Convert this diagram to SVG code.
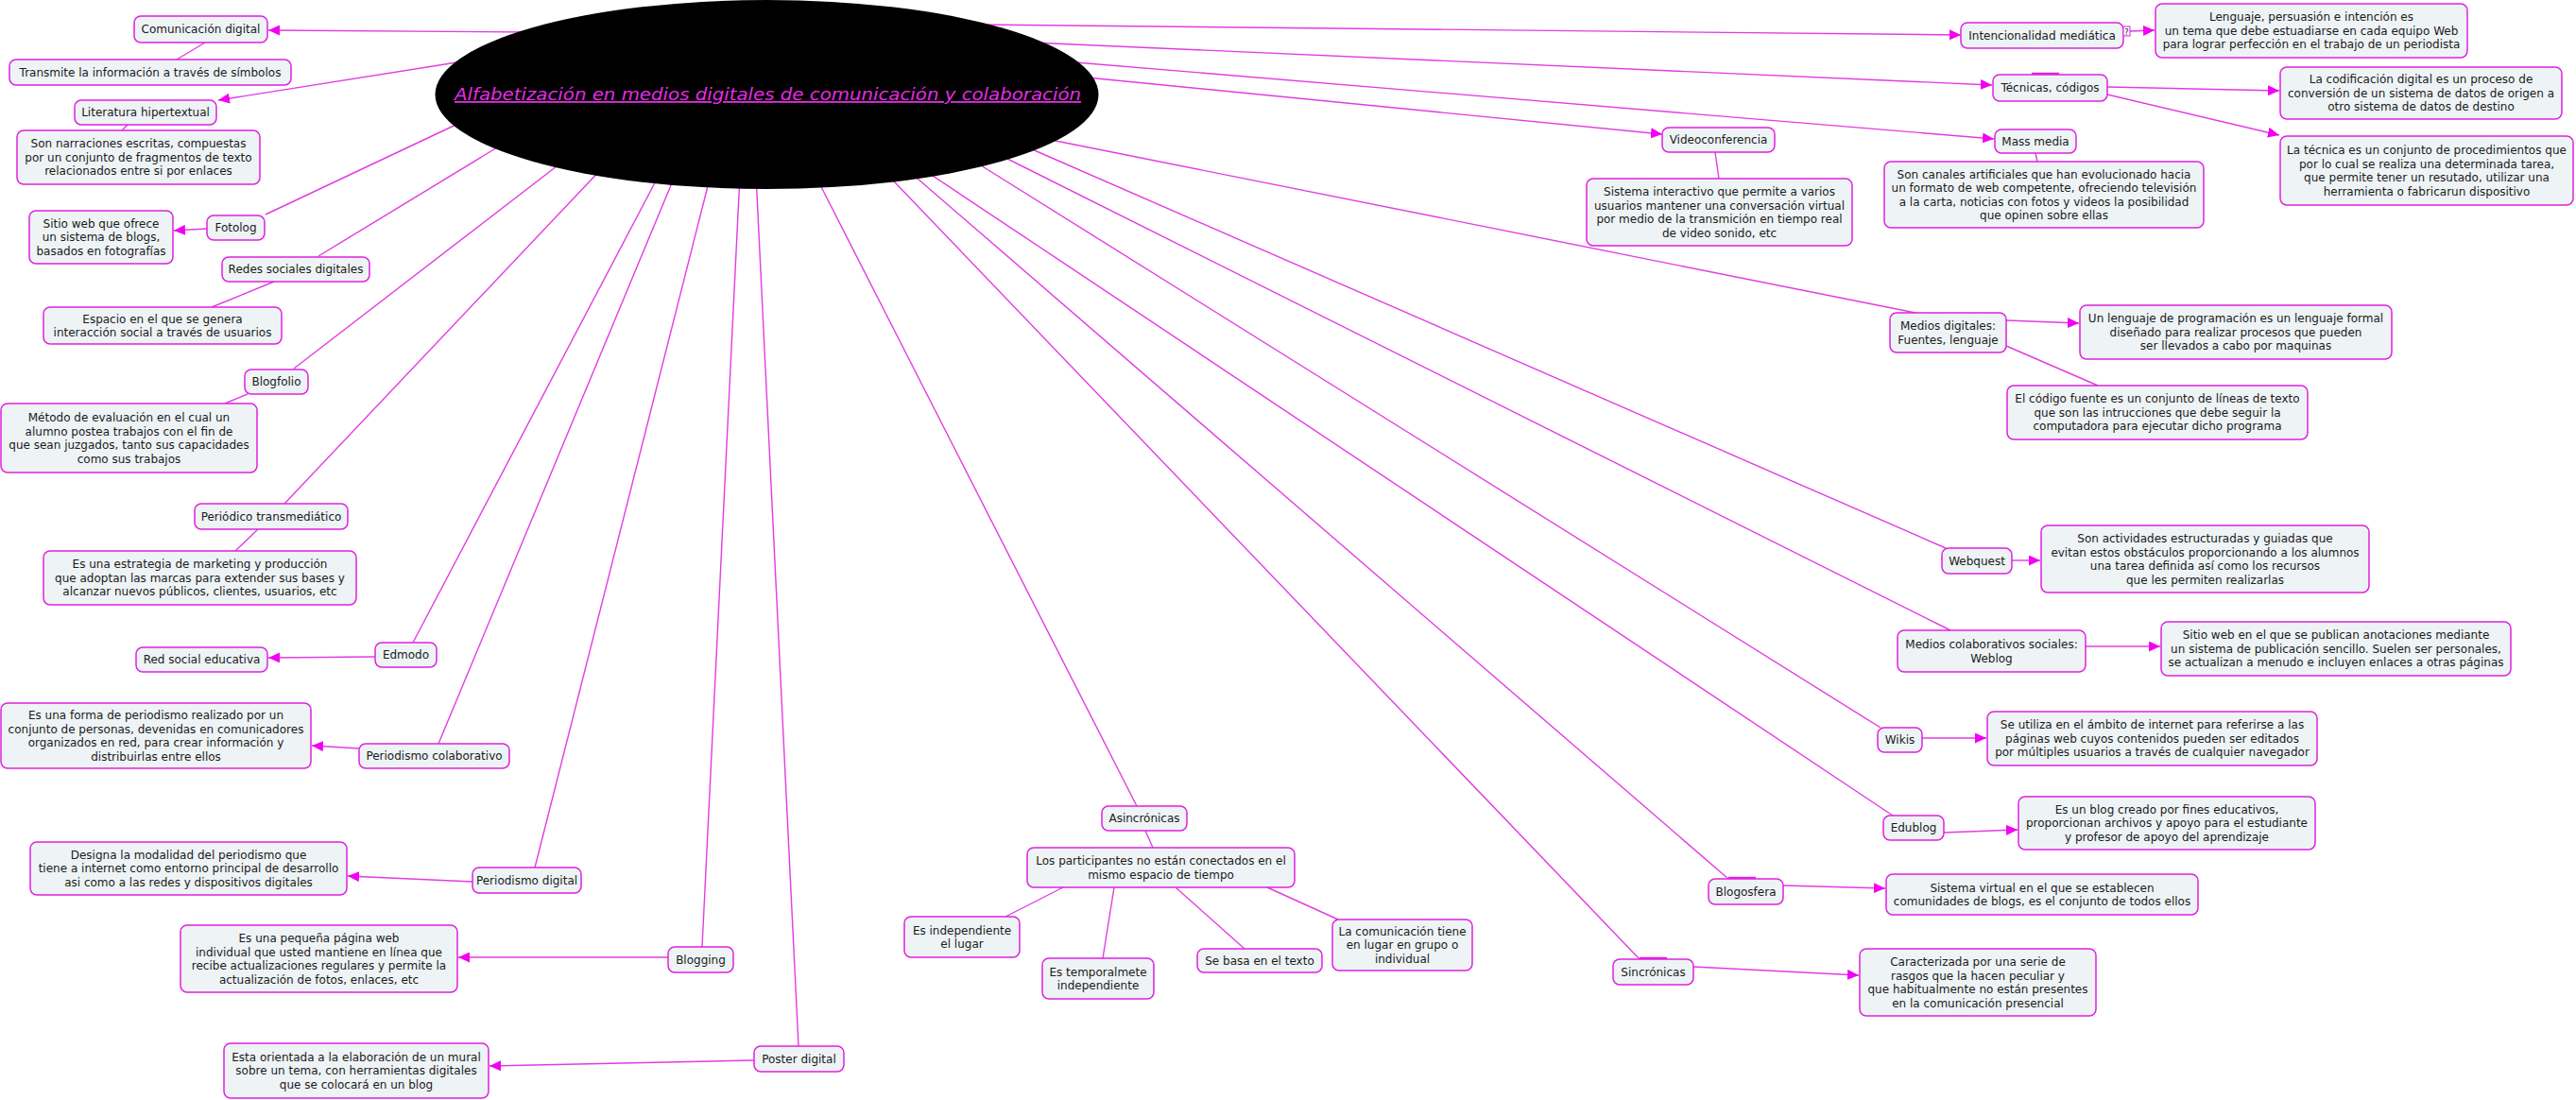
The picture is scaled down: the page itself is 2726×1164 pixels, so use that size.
<svg xmlns="http://www.w3.org/2000/svg" width="2726" height="1164" viewBox="0 0 2726 1164">
<style>
.n rect{fill:#eef3f5;stroke:#e020e0;stroke-width:1.5}
.n text{font-family:"DejaVu Sans",Verdana,sans-serif;font-size:12px;fill:#1a1a1a;text-anchor:middle}
#connectors line{stroke:#e23ce2;stroke-width:1.4;fill:none}
#connectors line.a{marker-end:url(#arr)}
.tab{stroke:#e020e0;stroke-width:2.5}
</style>
<defs>
<marker id="arr" markerUnits="userSpaceOnUse" markerWidth="13" markerHeight="11" refX="12" refY="5.5" orient="auto">
<path d="M0,0 L12,5.5 L0,11 z" fill="#f200f2"/>
</marker>
</defs>
<rect width="2726" height="1164" fill="#ffffff"/>
<g id="connectors">
<line class="a" x1="565" y1="34" x2="284" y2="32"/>
<line class="a" x1="496" y1="64" x2="231" y2="106"/>
<line x1="493" y1="127" x2="281" y2="227"/>
<line x1="536" y1="150" x2="337" y2="271"/>
<line x1="598" y1="169" x2="311" y2="390"/>
<line x1="640" y1="175" x2="301" y2="533"/>
<line x1="699" y1="182" x2="437" y2="680"/>
<line x1="715" y1="184" x2="464" y2="787"/>
<line x1="752" y1="185" x2="566" y2="918"/>
<line x1="783" y1="185" x2="743" y2="1002"/>
<line x1="800" y1="185" x2="845" y2="1107"/>
<line x1="862" y1="184" x2="1203" y2="853"/>
<line x1="925" y1="170" x2="1735" y2="1015"/>
<line x1="949" y1="170" x2="1829" y2="930"/>
<line x1="963" y1="170" x2="2003" y2="863"/>
<line x1="1030" y1="170" x2="1990" y2="770"/>
<line x1="1030" y1="150" x2="2064" y2="667"/>
<line x1="1051" y1="140" x2="2059" y2="580"/>
<line x1="1077" y1="141" x2="2027" y2="331"/>
<line class="a" x1="1140" y1="81" x2="1759" y2="142"/>
<line class="a" x1="1126" y1="65" x2="2110" y2="147"/>
<line class="a" x1="1091" y1="45" x2="2108" y2="90"/>
<line class="a" x1="1035" y1="26" x2="2075" y2="37"/>
<line x1="217" y1="45" x2="187" y2="63"/>
<line x1="135" y1="132" x2="129" y2="138"/>
<line class="a" x1="219" y1="242" x2="184" y2="244"/>
<line x1="290" y1="298" x2="224" y2="325"/>
<line x1="262" y1="417" x2="238" y2="427"/>
<line x1="273" y1="560" x2="249" y2="583"/>
<line class="a" x1="397" y1="695" x2="284" y2="696"/>
<line class="a" x1="380" y1="792" x2="330" y2="789"/>
<line class="a" x1="500" y1="933" x2="368" y2="927"/>
<line class="a" x1="707" y1="1013" x2="485" y2="1013"/>
<line class="a" x1="798" y1="1122" x2="518" y2="1128"/>
<line x1="1212" y1="879" x2="1220" y2="897"/>
<line x1="1125" y1="939" x2="1064" y2="970"/>
<line x1="1179" y1="939" x2="1167" y2="1014"/>
<line x1="1244" y1="939" x2="1317" y2="1004"/>
<line x1="1341" y1="939" x2="1416" y2="973"/>
<line class="a" x1="1792" y1="1023" x2="1967" y2="1032"/>
<line class="a" x1="1887" y1="937" x2="1995" y2="940"/>
<line class="a" x1="2057" y1="881" x2="2135" y2="878"/>
<line class="a" x1="2034" y1="781" x2="2102" y2="781"/>
<line class="a" x1="2207" y1="684" x2="2286" y2="684"/>
<line class="a" x1="2129" y1="593" x2="2159" y2="593"/>
<line class="a" x1="2123" y1="339" x2="2200" y2="342"/>
<line x1="2123" y1="366" x2="2220" y2="408"/>
<line x1="1815" y1="161" x2="1819" y2="189"/>
<line x1="2154" y1="162" x2="2156" y2="171"/>
<line class="a" x1="2230" y1="92" x2="2412" y2="96"/>
<line class="a" x1="2230" y1="100" x2="2412" y2="143"/>
<line class="a" x1="2254" y1="33" x2="2280" y2="32"/>
</g>
<g id="center">
<ellipse cx="811.5" cy="100" rx="351" ry="100" fill="#000000"/>
<text x="812.5" y="106" textLength="663" lengthAdjust="spacingAndGlyphs" font-family="DejaVu Sans,Verdana,sans-serif" font-size="18" font-style="italic" text-decoration="underline" fill="#e62ce6" text-anchor="middle">Alfabetización en medios digitales de comunicación y colaboración</text>
</g>
<g id="n1" class="n"><rect x="142" y="17" width="141" height="28" rx="7"/><text x="212.5" y="35.3">Comunicación digital</text></g>
<g id="n2" class="n"><rect x="10" y="63" width="298" height="27" rx="7"/><text x="159" y="80.8">Transmite la información a través de símbolos</text></g>
<g id="n3" class="n"><rect x="79" y="106" width="150" height="26" rx="7"/><text x="154" y="123.3">Literatura hipertextual</text></g>
<g id="n4" class="n"><rect x="18" y="138" width="257" height="57" rx="7"/><text x="146.5" y="156.3"><tspan x="146.5">Son narraciones escritas, compuestas</tspan><tspan x="146.5" dy="14.5">por un conjunto de fragmentos de texto</tspan><tspan x="146.5" dy="14.5">relacionados entre si por enlaces</tspan></text></g>
<g id="n5" class="n"><rect x="219" y="228" width="61" height="26" rx="7"/><text x="249.5" y="245.3">Fotolog</text></g>
<g id="n6" class="n"><rect x="31" y="223" width="152" height="56" rx="7"/><text x="107" y="240.8"><tspan x="107">Sitio web que ofrece</tspan><tspan x="107" dy="14.5">un sistema de blogs,</tspan><tspan x="107" dy="14.5">basados en fotografías</tspan></text></g>
<g id="n7" class="n"><rect x="235" y="272" width="156" height="26" rx="7"/><text x="313" y="289.3">Redes sociales digitales</text></g>
<g id="n8" class="n"><rect x="46" y="325" width="252" height="39" rx="7"/><text x="172" y="341.6"><tspan x="172">Espacio en el que se genera</tspan><tspan x="172" dy="14.5">interacción social a través de usuarios</tspan></text></g>
<g id="n9" class="n"><rect x="259" y="391" width="67" height="26" rx="7"/><text x="292.5" y="408.3">Blogfolio</text></g>
<g id="n10" class="n"><rect x="1" y="427" width="271" height="73" rx="7"/><text x="136.5" y="446"><tspan x="136.5">Método de evaluación en el cual un</tspan><tspan x="136.5" dy="14.5">alumno postea trabajos con el fin de</tspan><tspan x="136.5" dy="14.5">que sean juzgados, tanto sus capacidades</tspan><tspan x="136.5" dy="14.5">como sus trabajos</tspan></text></g>
<g id="n11" class="n"><rect x="206" y="533" width="162" height="27" rx="7"/><text x="287" y="550.8">Periódico transmediático</text></g>
<g id="n12" class="n"><rect x="46" y="583" width="331" height="57" rx="7"/><text x="211.5" y="601.3"><tspan x="211.5">Es una estrategia de marketing y producción</tspan><tspan x="211.5" dy="14.5">que adoptan las marcas para extender sus bases y</tspan><tspan x="211.5" dy="14.5">alcanzar nuevos públicos, clientes, usuarios, etc</tspan></text></g>
<g id="n13" class="n"><rect x="397" y="680" width="65" height="26" rx="7"/><text x="429.5" y="697.3">Edmodo</text></g>
<g id="n14" class="n"><rect x="144" y="685" width="139" height="26" rx="7"/><text x="213.5" y="702.3">Red social educativa</text></g>
<g id="n15" class="n"><rect x="1" y="744" width="328" height="69" rx="7"/><text x="165" y="761"><tspan x="165">Es una forma de periodismo realizado por un</tspan><tspan x="165" dy="14.5">conjunto de personas, devenidas en comunicadores</tspan><tspan x="165" dy="14.5">organizados en red, para crear información y</tspan><tspan x="165" dy="14.5">distribuirlas entre ellos</tspan></text></g>
<g id="n16" class="n"><rect x="380" y="787" width="159" height="26" rx="7"/><text x="459.5" y="804.3">Periodismo colaborativo</text></g>
<g id="n17" class="n"><rect x="32" y="891" width="335" height="56" rx="7"/><text x="199.5" y="908.8"><tspan x="199.5">Designa la modalidad del periodismo que</tspan><tspan x="199.5" dy="14.5">tiene a internet como entorno principal de desarrollo</tspan><tspan x="199.5" dy="14.5">asi como a las redes y dispositivos digitales</tspan></text></g>
<g id="n18" class="n"><rect x="500" y="918" width="115" height="27" rx="7"/><text x="557.5" y="935.8">Periodismo digital</text></g>
<g id="n19" class="n"><rect x="191" y="979" width="293" height="71" rx="7"/><text x="337.5" y="997"><tspan x="337.5">Es una pequeña página web</tspan><tspan x="337.5" dy="14.5">individual que usted mantiene en línea que</tspan><tspan x="337.5" dy="14.5">recibe actualizaciones regulares y permite la</tspan><tspan x="337.5" dy="14.5">actualización de fotos, enlaces, etc</tspan></text></g>
<g id="n20" class="n"><rect x="237" y="1104" width="280" height="58" rx="7"/><text x="377" y="1122.8"><tspan x="377">Esta orientada a la elaboración de un mural</tspan><tspan x="377" dy="14.5">sobre un tema, con herramientas digitales</tspan><tspan x="377" dy="14.5">que se colocará en un blog</tspan></text></g>
<g id="n21" class="n"><rect x="707" y="1002" width="69" height="27" rx="7"/><text x="741.5" y="1019.8">Blogging</text></g>
<g id="n22" class="n"><rect x="798" y="1107" width="95" height="27" rx="7"/><text x="845.5" y="1124.8">Poster digital</text></g>
<g id="n23" class="n"><rect x="1166" y="853" width="90" height="26" rx="7"/><text x="1211" y="870.3">Asincrónicas</text></g>
<g id="n24" class="n"><rect x="1087" y="897" width="283" height="42" rx="7"/><text x="1228.5" y="915"><tspan x="1228.5">Los participantes no están conectados en el</tspan><tspan x="1228.5" dy="14.5">mismo espacio de tiempo</tspan></text></g>
<g id="n25" class="n"><rect x="957" y="970" width="122" height="43" rx="7"/><text x="1018" y="988.5"><tspan x="1018">Es independiente</tspan><tspan x="1018" dy="14.5">el lugar</tspan></text></g>
<g id="n26" class="n"><rect x="1103" y="1014" width="118" height="43" rx="7"/><text x="1162" y="1032.5"><tspan x="1162">Es temporalmete</tspan><tspan x="1162" dy="14.5">independiente</tspan></text></g>
<g id="n27" class="n"><rect x="1267" y="1004" width="132" height="25" rx="7"/><text x="1333" y="1020.8">Se basa en el texto</text></g>
<g id="n28" class="n"><rect x="1410" y="973" width="148" height="54" rx="7"/><text x="1484" y="989.8"><tspan x="1484">La comunicación tiene</tspan><tspan x="1484" dy="14.5">en lugar en grupo o</tspan><tspan x="1484" dy="14.5">individual</tspan></text></g>
<g id="n29" class="n"><rect x="2075" y="24" width="172" height="27" rx="7"/><text x="2161" y="41.8">Intencionalidad mediática</text><rect x="2247" y="28" width="7" height="10" rx="0" style="fill:#ffffff;stroke:#e020e0;stroke-width:1"/><text x="2250.5" y="36.5" style="font-size:9px">?</text></g>
<g id="n30" class="n"><rect x="2281" y="4" width="330" height="57" rx="7"/><text x="2446" y="22.3"><tspan x="2446">Lenguaje, persuasión e intención es</tspan><tspan x="2446" dy="14.5">un tema que debe estuadiarse en cada equipo Web</tspan><tspan x="2446" dy="14.5">para lograr perfección en el trabajo de un periodista</tspan></text></g>
<g id="n31" class="n"><line class="tab" x1="2150" y1="78" x2="2179" y2="78"/><rect x="2109" y="79" width="121" height="28" rx="7"/><text x="2169.5" y="97.3">Técnicas, códigos</text></g>
<g id="n32" class="n"><rect x="2413" y="71" width="298" height="55" rx="7"/><text x="2562" y="88.3"><tspan x="2562">La codificación digital es un proceso de</tspan><tspan x="2562" dy="14.5">conversión de un sistema de datos de origen a</tspan><tspan x="2562" dy="14.5">otro sistema de datos de destino</tspan></text></g>
<g id="n33" class="n"><rect x="2413" y="144" width="310" height="73" rx="7"/><text x="2568" y="163"><tspan x="2568">La técnica es un conjunto de procedimientos que</tspan><tspan x="2568" dy="14.5">por lo cual se realiza una determinada tarea,</tspan><tspan x="2568" dy="14.5">que permite tener un resutado, utilizar una</tspan><tspan x="2568" dy="14.5">herramienta o fabricarun dispositivo</tspan></text></g>
<g id="n34" class="n"><rect x="2111" y="137" width="86" height="25" rx="7"/><text x="2154" y="153.8">Mass media</text></g>
<g id="n35" class="n"><rect x="1994" y="171" width="338" height="70" rx="7"/><text x="2163" y="188.5"><tspan x="2163">Son canales artificiales que han evolucionado hacia</tspan><tspan x="2163" dy="14.5">un formato de web competente, ofreciendo televisión</tspan><tspan x="2163" dy="14.5">a la carta, noticias con fotos y videos la posibilidad</tspan><tspan x="2163" dy="14.5">que opinen sobre ellas</tspan></text></g>
<g id="n36" class="n"><rect x="1759" y="135" width="119" height="26" rx="7"/><text x="1818.5" y="152.3">Videoconferencia</text></g>
<g id="n37" class="n"><rect x="1679" y="189" width="281" height="71" rx="7"/><text x="1819.5" y="207"><tspan x="1819.5">Sistema interactivo que permite a varios</tspan><tspan x="1819.5" dy="14.5">usuarios mantener una conversación virtual</tspan><tspan x="1819.5" dy="14.5">por medio de la transmición en tiempo real</tspan><tspan x="1819.5" dy="14.5">de video sonido, etc</tspan></text></g>
<g id="n38" class="n"><rect x="2000" y="331" width="123" height="42" rx="7"/><text x="2061.5" y="349"><tspan x="2061.5">Medios digitales:</tspan><tspan x="2061.5" dy="14.5">Fuentes, lenguaje</tspan></text></g>
<g id="n39" class="n"><rect x="2201" y="323" width="330" height="57" rx="7"/><text x="2366" y="341.3"><tspan x="2366">Un lenguaje de programación es un lenguaje formal</tspan><tspan x="2366" dy="14.5">diseñado para realizar procesos que pueden</tspan><tspan x="2366" dy="14.5">ser llevados a cabo por maquinas</tspan></text></g>
<g id="n40" class="n"><rect x="2124" y="408" width="318" height="57" rx="7"/><text x="2283" y="426.3"><tspan x="2283">El código fuente es un conjunto de líneas de texto</tspan><tspan x="2283" dy="14.5">que son las intrucciones que debe seguir la</tspan><tspan x="2283" dy="14.5">computadora para ejecutar dicho programa</tspan></text></g>
<g id="n41" class="n"><rect x="2055" y="580" width="74" height="27" rx="7"/><text x="2092" y="597.8">Webquest</text></g>
<g id="n42" class="n"><rect x="2160" y="556" width="347" height="71" rx="7"/><text x="2333.5" y="574"><tspan x="2333.5">Son actividades estructuradas y guiadas que</tspan><tspan x="2333.5" dy="14.5">evitan estos obstáculos proporcionando a los alumnos</tspan><tspan x="2333.5" dy="14.5">una tarea definida así como los recursos</tspan><tspan x="2333.5" dy="14.5">que les permiten realizarlas</tspan></text></g>
<g id="n43" class="n"><rect x="2008" y="667" width="199" height="44" rx="7"/><text x="2107.5" y="686"><tspan x="2107.5">Medios colaborativos sociales:</tspan><tspan x="2107.5" dy="14.5">Weblog</tspan></text></g>
<g id="n44" class="n"><rect x="2287" y="658" width="370" height="57" rx="7"/><text x="2472" y="676.3"><tspan x="2472">Sitio web en el que se publican anotaciones mediante</tspan><tspan x="2472" dy="14.5">un sistema de publicación sencillo. Suelen ser personales,</tspan><tspan x="2472" dy="14.5">se actualizan a menudo e incluyen enlaces a otras páginas</tspan></text></g>
<g id="n45" class="n"><rect x="1987" y="770" width="47" height="26" rx="7"/><text x="2010.5" y="787.3">Wikis</text></g>
<g id="n46" class="n"><rect x="2103" y="753" width="349" height="57" rx="7"/><text x="2277.5" y="771.3"><tspan x="2277.5">Se utiliza en el ámbito de internet para referirse a las</tspan><tspan x="2277.5" dy="14.5">páginas web cuyos contenidos pueden ser editados</tspan><tspan x="2277.5" dy="14.5">por múltiples usuarios a través de cualquier navegador</tspan></text></g>
<g id="n47" class="n"><rect x="1993" y="863" width="64" height="26" rx="7"/><text x="2025" y="880.3">Edublog</text></g>
<g id="n48" class="n"><rect x="2136" y="843" width="314" height="56" rx="7"/><text x="2293" y="860.8"><tspan x="2293">Es un blog creado por fines educativos,</tspan><tspan x="2293" dy="14.5">proporcionan archivos y apoyo para el estudiante</tspan><tspan x="2293" dy="14.5">y profesor de apoyo del aprendizaje</tspan></text></g>
<g id="n49" class="n"><line class="tab" x1="1829" y1="929" x2="1858" y2="929"/><rect x="1808" y="930" width="79" height="27" rx="7"/><text x="1847.5" y="947.8">Blogosfera</text></g>
<g id="n50" class="n"><rect x="1996" y="925" width="330" height="43" rx="7"/><text x="2161" y="943.5"><tspan x="2161">Sistema virtual en el que se establecen</tspan><tspan x="2161" dy="14.5">comunidades de blogs, es el conjunto de todos ellos</tspan></text></g>
<g id="n51" class="n"><line class="tab" x1="1735" y1="1014" x2="1764" y2="1014"/><rect x="1707" y="1015" width="85" height="27" rx="7"/><text x="1749.5" y="1032.8">Sincrónicas</text></g>
<g id="n52" class="n"><rect x="1968" y="1004" width="250" height="71" rx="7"/><text x="2093" y="1022"><tspan x="2093">Caracterizada por una serie de</tspan><tspan x="2093" dy="14.5">rasgos que la hacen peculiar y</tspan><tspan x="2093" dy="14.5">que habitualmente no están presentes</tspan><tspan x="2093" dy="14.5">en la comunicación presencial</tspan></text></g>
</svg>
